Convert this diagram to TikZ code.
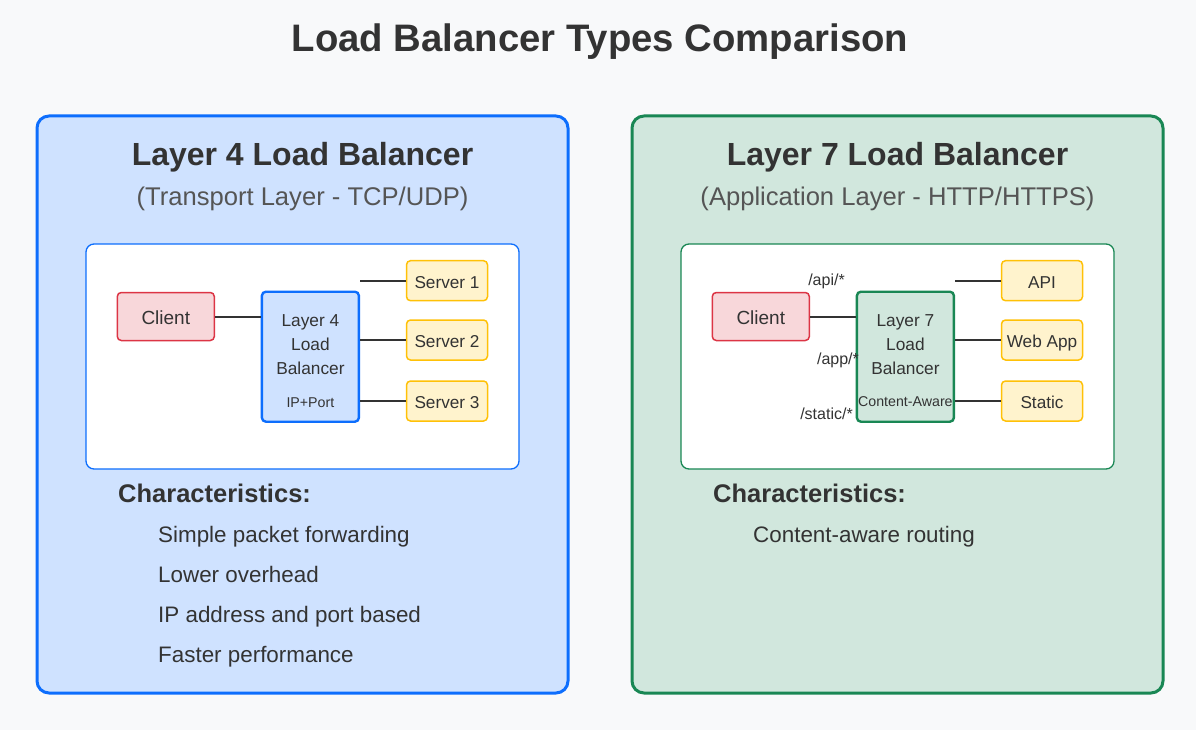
\documentclass[tikz,border=0pt]{standalone}
\usepackage{fontspec}
\setmainfont{Liberation Sans}
\definecolor{bgc}{HTML}{F8F9FA}
\definecolor{txt}{HTML}{333333}
\definecolor{subt}{HTML}{555555}
\definecolor{bluestroke}{HTML}{0D6EFD}
\definecolor{bluefill}{HTML}{CFE2FF}
\definecolor{greenstroke}{HTML}{198754}
\definecolor{greenfill}{HTML}{D1E7DD}
\definecolor{redstroke}{HTML}{DC3545}
\definecolor{redfill}{HTML}{F8D7DA}
\definecolor{ystroke}{HTML}{FFC107}
\definecolor{yfill}{HTML}{FFF3CD}
\newcommand{\fs}[1]{\fontsize{#1}{#1}\selectfont}
\tikzset{
  box/.style={draw, rounded corners=4pt, inner sep=0pt, line width=1.5pt, text=txt},
  clientbox/.style={box, draw=redstroke, fill=redfill, minimum width=97pt, minimum height=48pt},
  serverbox/.style={box, draw=ystroke, fill=yfill, minimum width=81pt, minimum height=40pt},
  lbbox/.style={box, line width=2.4pt, minimum width=97pt, minimum height=130pt},
  conn/.style={draw=txt, line width=2pt},
  clienttext/.style={text=txt, font=\fs{19}, anchor=base, inner sep=0pt},
  servertext/.style={text=txt, font=\fs{17.2}, anchor=base, inner sep=0pt},
  lbtext/.style={text=txt, font=\fs{17.3}, anchor=base, inner sep=0pt},
  smalltext/.style={text=txt, font=\fs{14.2}, anchor=base, inner sep=0pt},
  pathlabel/.style={text=txt, font=\fs{16}, anchor=base, inner sep=0pt},
  itemtext/.style={text=txt, font=\fs{22.4}, anchor=base west, inner sep=0pt},
  chartitle/.style={text=txt, font=\bfseries\fs{25.5}, anchor=base west, inner sep=0pt},
  ptitle/.style={text=txt, font=\bfseries\fs{32}, anchor=base, inner sep=0pt},
  psub/.style={text=subt, font=\fs{25.6}, anchor=base, inner sep=0pt},
}
\begin{document}
\begin{tikzpicture}[x=1pt,y=-1pt]
\fill[bgc] (0,0) rectangle (1196,730);
\useasboundingbox (0,0) rectangle (1196,730);
\node[text=txt, font=\bfseries\fs{38.3}, anchor=base, inner sep=0pt] (title) at (600,52) {Load Balancer Types Comparison};

% Left panel
\draw[bluestroke, fill=bluefill, line width=3pt, rounded corners=12pt] (37,116) rectangle (568,693);
\node[ptitle] (lt) at (302.5,165.5) {Layer 4 Load Balancer};
\node[psub] (ls) at (302.5,205) {(Transport Layer - TCP/UDP)};
\draw[bluestroke, fill=white, line width=1.3pt, rounded corners=8pt] (86,244) rectangle (519,469);
\node[clientbox] (lc) at (165.8,316.5) {};
\node[clienttext] at (165.8,324.5) {Client};
\node[lbbox, draw=bluestroke, fill=bluefill] (llb) at (310.4,356.7) {};
\node[lbtext] (llb1) at (310.4,326) {Layer 4};
\node[lbtext] (llb2) at (310.4,350) {Load};
\node[lbtext] (llb3) at (310.4,374) {Balancer};
\node[smalltext] (llb4) at (310.4,407) {IP+Port};
\node[serverbox] (ls1) at (447,280.7) {};
\node[serverbox] (ls2) at (447,340) {};
\node[serverbox] (ls3) at (447,401) {};
\node[servertext] at (447,288) {Server 1};
\node[servertext] at (447,347.3) {Server 2};
\node[servertext] at (447,408.3) {Server 3};
\path[conn] (lc.east) -- (lc.east -| llb.west);
\path[conn] (ls1.west) -- (ls1.west -| llb.east);
\path[conn] (ls2.west) -- (ls2.west -| llb.east);
\path[conn] (ls3.west) -- (ls3.west -| llb.east);
\node[chartitle] (lch) at (118,502.5) {Characteristics:};
\node[itemtext] (li1) at (158,542.5) {Simple packet forwarding};
\node[itemtext] (li2) at (158,582.5) {Lower overhead};
\node[itemtext] (li3) at (158,622.5) {IP address and port based};
\node[itemtext] (li4) at (158,662.5) {Faster performance};

% Right panel
\draw[greenstroke, fill=greenfill, line width=3pt, rounded corners=12pt] (632,116) rectangle (1163,693);
\node[ptitle] (rt) at (897.5,165.5) {Layer 7 Load Balancer};
\node[psub] (rs) at (897.5,205) {(Application Layer - HTTP/HTTPS)};
\draw[greenstroke, fill=white, line width=1.3pt, rounded corners=8pt] (681,244) rectangle (1114,469);
\node[clientbox] (rc) at (760.8,316.5) {};
\node[clienttext] at (760.8,324.5) {Client};
\node[lbbox, draw=greenstroke, fill=greenfill] (rlb) at (905.4,356.7) {};
\node[lbtext] (rlb1) at (905.4,326) {Layer 7};
\node[lbtext] (rlb2) at (905.4,350) {Load};
\node[lbtext] (rlb3) at (905.4,374) {Balancer};
\node[smalltext] (rlb4) at (905.4,406.5) {Content-Aware};
\node[serverbox] (rs1) at (1042,280.7) {};
\node[serverbox] (rs2) at (1042,340) {};
\node[serverbox] (rs3) at (1042,401) {};
\node[servertext] at (1042,288) {API};
\node[servertext] at (1042,347.3) {Web App};
\node[servertext] at (1042,408.3) {Static};
\path[conn] (rc.east) -- (rc.east -| rlb.west);
\path[conn] (rs1.west) -- (rs1.west -| rlb.east);
\path[conn] (rs2.west) -- (rs2.west -| rlb.east);
\path[conn] (rs3.west) -- (rs3.west -| rlb.east);
\node[pathlabel] (p1) at (826.5,285.5) {/api/*};
\node[pathlabel] (p2) at (838,364.5) {/app/*};
\node[pathlabel] (p3) at (826.5,419.5) {/static/*};
\node[chartitle] (rch) at (713,502.5) {Characteristics:};
\node[itemtext] (ri1) at (753,542.5) {Content-aware routing};
\end{tikzpicture}
\end{document}
